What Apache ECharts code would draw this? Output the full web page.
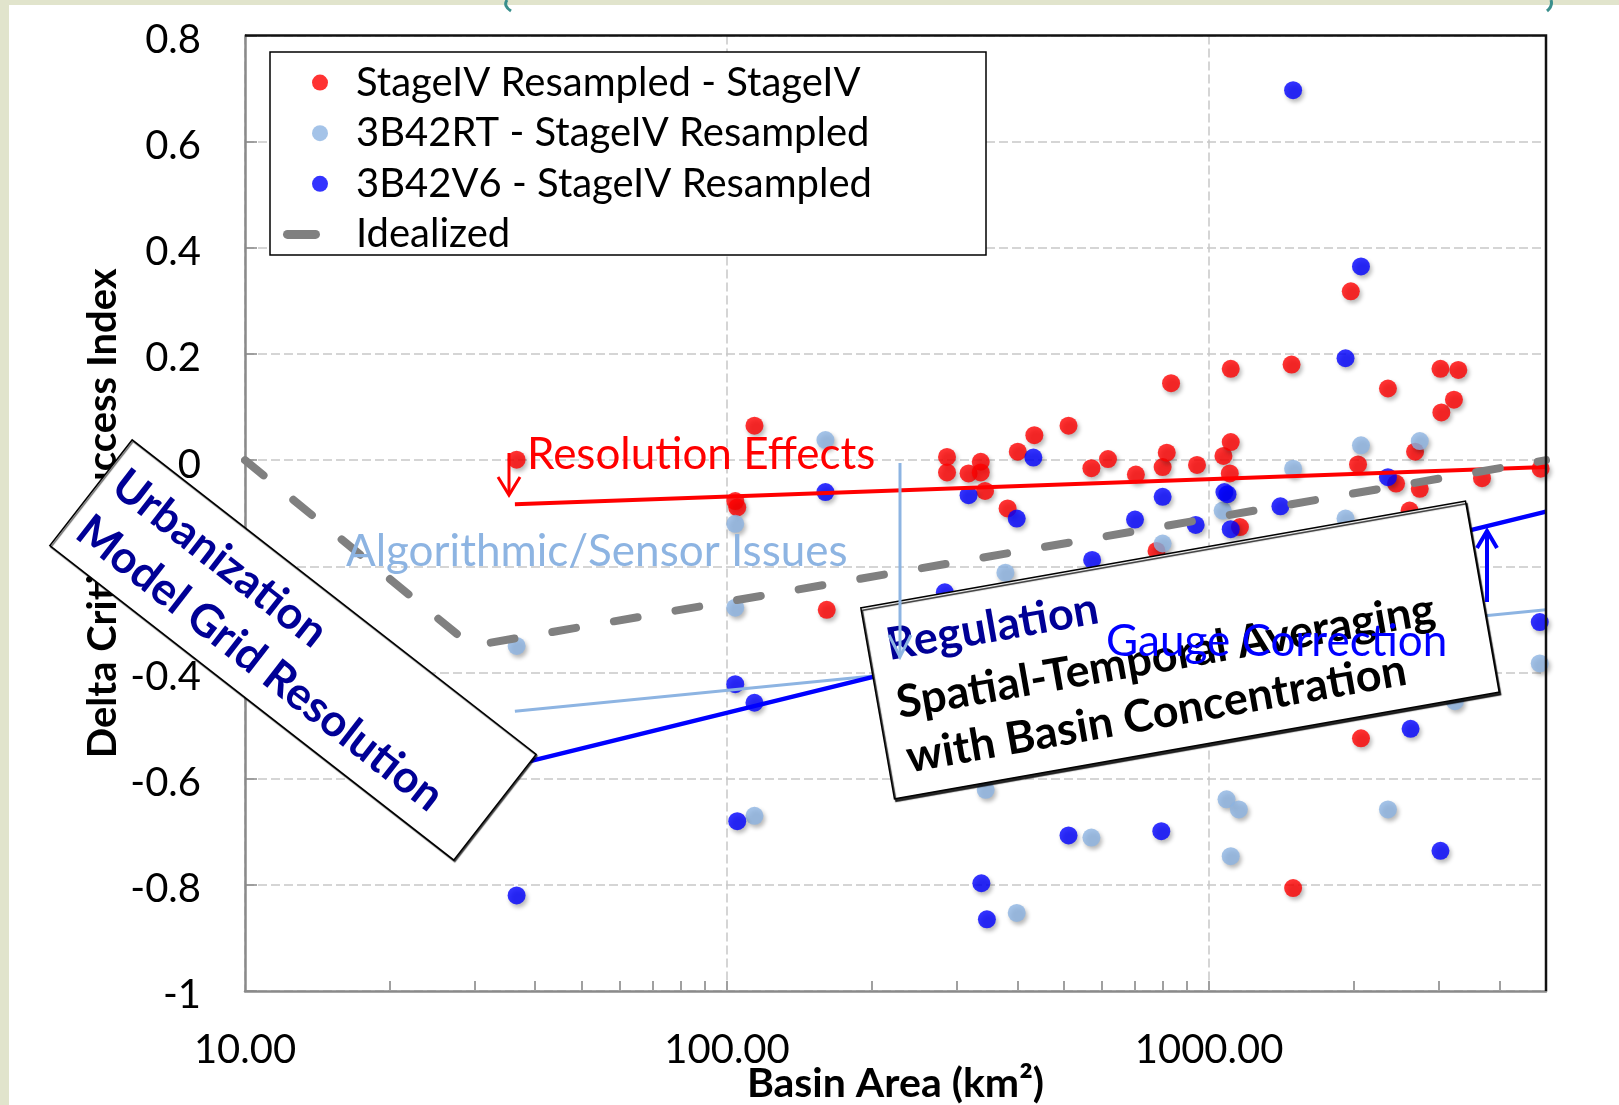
<!DOCTYPE html>
<html>
<head>
<meta charset="utf-8">
<title>Delta Critical Success Index vs Basin Area</title>
<script src="https://cdn.jsdelivr.net/npm/echarts@6/dist/echarts.min.js"></script>
<style>
  html, body { margin: 0; padding: 0; background: #ffffff; }
  #chart { width: 1619px; height: 1105px; }
</style>
</head>
<body>
<div id="chart"></div>
<script>
// ---- data: basin area (km²) vs. change in CSI ----
const stageIvResampledMinusStageIv = [
  [36.6, 0.001], [114, 0.065], [104, -0.077], [105, -0.089], [161, -0.282],
  [286, 0.006], [286, -0.023], [317, -0.025], [336, -0.003], [336, -0.023],
  [343, -0.058], [382, -0.091], [401, 0.016], [434, 0.047], [511, 0.065],
  [570, -0.015], [617, 0.002], [705, -0.027], [778, -0.171], [801, -0.013],
  [817, 0.014], [834, 0.145], [944, -0.009], [1071, 0.008], [1104, -0.025],
  [1109, 0.034], [1109, 0.172], [1159, -0.126], [1483, 0.180], [1494, -0.806],
  [1968, 0.318], [2037, -0.008], [2066, -0.524], [2350, 0.135], [2443, -0.044],
  [2606, -0.095], [2675, 0.016], [2736, -0.054], [3020, 0.172], [3033, 0.090],
  [3221, 0.114], [3289, 0.170], [3683, -0.034], [4873, -0.016]
];
const rtMinusStageIvResampled = [
  [36.6, -0.350], [104, -0.120], [104, -0.278], [114, -0.670], [160, 0.038],
  [344, -0.621], [378, -0.212], [399, -0.853], [570, -0.711], [801, -0.157],
  [1067, -0.095], [1087, -0.639], [1109, -0.746], [1153, -0.658], [1494, -0.016],
  [1919, -0.110], [2066, 0.028], [2350, -0.658], [2736, 0.036], [3236, -0.454],
  [4853, -0.383]
];
const v6MinusStageIvResampled = [
  [36.6, -0.820], [104, -0.422], [114, -0.457], [105, -0.680], [160, -0.060],
  [283, -0.249], [317, -0.066], [337, -0.797], [346, -0.865], [399, -0.110],
  [432, 0.005], [511, -0.707], [572, -0.188], [702, -0.112], [796, -0.699],
  [801, -0.069], [938, -0.122], [1076, -0.060], [1092, -0.064], [1109, -0.130],
  [1406, -0.087], [1494, 0.697], [1919, 0.192], [2066, 0.365], [2350, -0.032],
  [2618, -0.506], [3020, -0.736], [4853, -0.305]
];
const idealizedCurve = [[10, 0], [29.5, -0.350], [5000, 0]];
const trendStageIv = [[36.3, -0.083], [5000, -0.013]];
const trendRt = [[36.3, -0.473], [5000, -0.282]];
const trendV6 = [[36.3, -0.574], [5000, -0.097]];

const areaRange = [10, 5000];
const csiRange = [-1, 0.8];
const csiStep = 0.2;
const areaMinorTicks = [20, 30, 40, 50, 60, 70, 80, 90, 100,
  200, 300, 400, 500, 600, 700, 800, 900, 1000, 2000, 3000, 4000];

const seriesNames = [
  'StageIV Resampled - StageIV',
  '3B42RT - StageIV Resampled',
  '3B42V6 - StageIV Resampled',
  'Idealized'
];

// ---- styling ----
const FONT = 'Lato';
const RED = '#ff0000', LIGHT_BLUE = '#8db4e2', BLUE = '#0000ff', GREY = '#808080';
const NAVY = '#000096';
const AXIS_GREY = '#8a8a8a';
const deg = Math.PI / 180;

// plot rectangle
const PLOT = { left: 245, top: 35.5, width: 1301, height: 955.5 };

const markerStyle = (color) => ({
  color: color,
  shadowColor: 'rgba(0,0,0,0.35)',
  shadowBlur: 4,
  shadowOffsetX: 2,
  shadowOffsetY: 3
});

const gridSplit = { show: true, lineStyle: { color: '#c8c8c8', width: 1.5, type: [9, 4] } };

function isPowerOfTen(v) {
  const lg = Math.log10(v);
  return Math.abs(lg - Math.round(lg)) < 1e-6;
}

const txt = (text, x, y, fill, size, weight, z) => ({
  type: 'text', x: x, y: y, z: z || 12, silent: true,
  style: {
    text: text, fill: fill, fontFamily: FONT, fontSize: size,
    fontWeight: weight || 'normal', align: 'left', verticalAlign: 'middle'
  }
});

const arrow = (pts, head, color, width) => ([
  { type: 'polyline', z: 12, silent: true, shape: { points: pts },
    style: { stroke: color, lineWidth: width, fill: null } },
  { type: 'polyline', z: 12, silent: true, shape: { points: head },
    style: { stroke: color, lineWidth: width, fill: null } }
]);

const graphics = [
  // slide margins
  { type: 'rect', z: 0, silent: true, shape: { x: 0, y: 0, width: 9, height: 1105 }, style: { fill: '#e1e4cc' } },
  { type: 'rect', z: 0, silent: true, shape: { x: 0, y: 0, width: 1619, height: 5 }, style: { fill: '#e1e4cc' } },
  { type: 'bezierCurve', z: 1, silent: true,
    shape: { x1: 507, y1: 0, cpx1: 503, cpy1: 6, x2: 511, y2: 11 },
    style: { stroke: '#3a8f8c', lineWidth: 3, fill: null } },
  { type: 'bezierCurve', z: 1, silent: true,
    shape: { x1: 1551, y1: 0, cpx1: 1553, cpy1: 6, x2: 1547, y2: 11 },
    style: { stroke: '#3a8f8c', lineWidth: 3, fill: null } },

  // dark frame on the top and right sides of the plot
  { type: 'polyline', z: 5, silent: true,
    shape: { points: [[PLOT.left, PLOT.top], [PLOT.left + PLOT.width, PLOT.top],
                      [PLOT.left + PLOT.width, PLOT.top + PLOT.height]] },
    style: { stroke: '#111111', lineWidth: 2.5, fill: null } },

  // legend frame
  { type: 'rect', z: 3, silent: true, shape: { x: 270, y: 52, width: 716, height: 203 },
    style: { fill: '#ffffff', stroke: '#000000', lineWidth: 1.5 } },

  // tilted note on the left
  { type: 'group', x: 293, y: 650, rotation: -37.9 * deg, silent: true, children: [
    { type: 'rect', z: 10, shape: { x: -256, y: -67, width: 512, height: 134 },
      style: { fill: '#ffffff', stroke: '#000000', lineWidth: 1.5,
        shadowColor: 'rgba(0,0,0,0.6)', shadowBlur: 1, shadowOffsetX: 1, shadowOffsetY: 1.5 } },
    txt('Urbanization', -243, -27, NAVY, 45, 'bold', 11),
    txt('Model Grid Resolution', -243, 31, NAVY, 45, 'bold', 11)
  ] },

  // tilted note on the right
  { type: 'group', x: 1180, y: 650, rotation: 10 * deg, silent: true, children: [
    { type: 'rect', z: 10, shape: { x: -307, y: -97, width: 614, height: 194 },
      style: { fill: '#ffffff', stroke: '#000000', lineWidth: 1.5,
        shadowColor: 'rgba(0,0,0,0.85)', shadowBlur: 1, shadowOffsetX: 1.5, shadowOffsetY: 2.5 } },
    txt('Regulation', -288, -55, NAVY, 45, 'bold', 11),
    txt('Spatial-Temporal Averaging', -288, 4, '#000000', 45, 'bold', 11),
    txt('with Basin Concentration', -288, 59, '#000000', 45, 'bold', 11)
  ] },

  // effect labels and arrows
  txt('Resolution Effects', 527, 455, RED, 44),
  ...arrow([[509, 453], [509, 494]], [[498, 477], [509, 495], [520, 477]], RED, 3),
  txt('Algorithmic/Sensor Issues', 346, 552, LIGHT_BLUE, 44),
  ...arrow([[900, 463], [900, 656]], [[889, 635], [900, 657], [911, 635]], LIGHT_BLUE, 3),
  txt('Gauge Correction', 1106, 642, BLUE, 44),
  ...arrow([[1487, 602], [1487, 532]], [[1477, 548], [1487, 531], [1497, 548]], BLUE, 4)
];

const chart = echarts.init(document.getElementById('chart'), null, { renderer: 'canvas' });

chart.setOption({
  animation: false,
  backgroundColor: '#ffffff',
  grid: {
    left: PLOT.left, top: PLOT.top, width: PLOT.width, height: PLOT.height,
    containLabel: false, outerBoundsMode: 'none',
    show: false
  },
  legend: [
    {
      data: seriesNames.slice(0, 3),
      orient: 'vertical', left: 312, top: 57.3,
      itemWidth: 62, itemHeight: 16, itemGap: 0, padding: 0,
      icon: 'circle', selectedMode: false, z: 4,
      itemStyle: { shadowBlur: 0, shadowOffsetX: 0, shadowOffsetY: 0, shadowColor: 'transparent' },
      textStyle: { fontFamily: FONT, fontSize: 40, lineHeight: 50.6, color: '#000000' }
    },
    {
      data: [seriesNames[3]],
      orient: 'vertical', left: 283, top: 209.1,
      itemWidth: 37, itemHeight: 9, itemGap: 0, padding: 0,
      icon: 'path://M4.5,0 H32.5 A4.5,4.5 0 0 1 32.5,9 H4.5 A4.5,4.5 0 0 1 4.5,0 Z',
      selectedMode: false, z: 4,
      textStyle: { fontFamily: FONT, fontSize: 40, lineHeight: 50.6, color: '#000000', padding: [0, 0, 0, 31] }
    }
  ],
  xAxis: [
    {
      type: 'log', logBase: 10, min: areaRange[0], max: areaRange[1], position: 'bottom',
      name: 'Basin Area (km²)', nameLocation: 'middle', nameGap: 71, nameMoveOverlap: false,
      nameTextStyle: { fontFamily: FONT, fontSize: 41, fontWeight: 'bold', color: '#000000', lineHeight: 44 },
      axisLine: { show: true, onZero: false, lineStyle: { color: AXIS_GREY, width: 2.5 } },
      axisTick: { show: false },
      minorTick: { show: false },
      axisLabel: {
        fontFamily: FONT, fontSize: 40, color: '#000000', margin: 39, lineHeight: 40,
        formatter: (v) => isPowerOfTen(v) ? Math.round(v).toFixed(2) : ''
      },
      splitLine: gridSplit
    },
    {
      // log-positioned minor ticks along the bottom edge
      type: 'value', min: Math.log10(areaRange[0]), max: Math.log10(areaRange[1]), position: 'bottom',
      axisLine: { show: false, onZero: false },
      axisLabel: { show: false },
      splitLine: { show: false },
      axisTick: {
        show: true, inside: true, length: 10,
        customValues: areaMinorTicks.map((v) => Math.log10(v)),
        lineStyle: { color: '#a0a0a0', width: 2 }
      }
    }
  ],
  yAxis: {
    type: 'value', min: csiRange[0], max: csiRange[1], interval: csiStep,
    name: 'Delta Critical Success Index', nameLocation: 'middle', nameGap: 120, nameRotate: 90,
    nameMoveOverlap: false,
    nameTextStyle: { fontFamily: FONT, fontSize: 40, fontWeight: 'bold', color: '#000000', lineHeight: 44 },
    axisLine: { show: true, onZero: false, lineStyle: { color: AXIS_GREY, width: 2.5 } },
    axisTick: { show: true, inside: true, length: 12, lineStyle: { color: AXIS_GREY, width: 1.5 } },
    axisLabel: {
      fontFamily: FONT, fontSize: 40, color: '#000000', margin: 44,
      // a short line box anchored at the top sets the digits slightly below the gridline
      verticalAlign: 'top', lineHeight: 9,
      formatter: (v) => String(+v.toFixed(1))
    },
    splitLine: gridSplit
  },
  series: [
    { name: 'StageIV fit', type: 'line', data: trendStageIv, showSymbol: false, silent: true,
      lineStyle: { color: RED, width: 4 }, itemStyle: { color: RED } },
    { name: '3B42RT fit', type: 'line', data: trendRt, showSymbol: false, silent: true,
      lineStyle: { color: LIGHT_BLUE, width: 3 }, itemStyle: { color: LIGHT_BLUE } },
    { name: '3B42V6 fit', type: 'line', data: trendV6, showSymbol: false, silent: true,
      lineStyle: { color: BLUE, width: 4.5 }, itemStyle: { color: BLUE } },
    { name: seriesNames[0], type: 'scatter', data: stageIvResampledMinusStageIv,
      symbolSize: 18, itemStyle: markerStyle(RED) },
    { name: seriesNames[1], type: 'scatter', data: rtMinusStageIvResampled,
      symbolSize: 18, itemStyle: markerStyle(LIGHT_BLUE) },
    { name: seriesNames[2], type: 'scatter', data: v6MinusStageIvResampled,
      symbolSize: 18, itemStyle: markerStyle(BLUE) },
    { name: seriesNames[3], type: 'line', data: idealizedCurve, showSymbol: false, silent: true,
      lineStyle: { color: GREY, width: 8, type: [24, 38.5], cap: 'round' }, itemStyle: { color: GREY } }
  ],
  graphic: graphics
});
</script>
</body>
</html>
